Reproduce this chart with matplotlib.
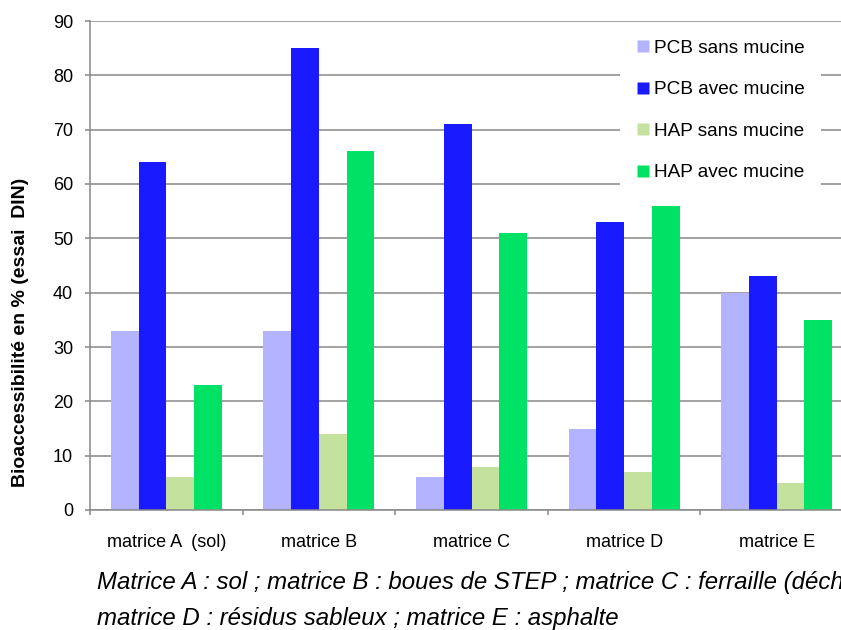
import matplotlib
matplotlib.use("Agg")
import matplotlib.pyplot as plt
from matplotlib.lines import Line2D
from matplotlib.patches import Rectangle
import numpy as np

plt.rcParams['font.family'] = ['Liberation Sans', 'DejaVu Sans']

categories = ["matrice A  (sol)", "matrice B", "matrice C", "matrice D", "matrice E"]
series_names = ["PCB sans mucine", "PCB avec mucine", "HAP sans mucine", "HAP avec mucine"]
pcb_sans = [33, 33, 6, 15, 40]
pcb_avec = [64, 85, 71, 53, 43]
hap_sans = [6, 14, 8, 7, 5]
hap_avec = [23, 66, 51, 56, 35]
colors = ["#B3B3FF", "#1A1AFF", "#C4E19E", "#00E266"]
y_ticks = [0, 10, 20, 30, 40, 50, 60, 70, 80, 90]
y_label = "Bioaccessibilité en % (essai  DIN)"
caption = ["Matrice A : sol ; matrice B : boues de STEP ; matrice C : ferraille (déchets) ;",
           "matrice D : résidus sableux ; matrice E : asphalte"]

W, H = 841, 630
fig = plt.figure(figsize=(W / 100, H / 100), dpi=100)
ax = fig.add_axes([90 / W, 1 - 510 / H, (853 - 90) / W, (510 - 21) / H])

x = np.arange(len(categories))
bw = 0.182
all_series = [pcb_sans, pcb_avec, hap_sans, hap_avec]
for i, (vals, c) in enumerate(zip(all_series, colors)):
    ax.bar(x + (i - 1.5) * bw, vals, width=bw, color=c, zorder=2, linewidth=0)

ax.set_xlim(-0.5, len(categories) - 0.5)
ax.set_ylim(0, 90)
ax.set_yticks(y_ticks)
ax.set_yticklabels([str(v) for v in y_ticks], fontsize=13)
ax.set_xticks(x)
ax.set_xticklabels(categories, fontsize=13)
ax.set_xticks(np.arange(-0.5, len(categories) + 0.5, 1), minor=True)
ax.tick_params(axis='x', which='major', length=0, pad=17)
ax.tick_params(axis='x', which='minor', length=3.6, width=1.1, color='#888888')
ax.tick_params(axis='y', length=3.6, width=1.1, color='#888888', pad=8.6)

ax.set_axisbelow(True)
ax.yaxis.grid(True, color='#888888', linewidth=1.1, zorder=0.5)
for s in ['top', 'right']:
    ax.spines[s].set_visible(False)
for s in ['left', 'bottom']:
    ax.spines[s].set_color('#888888')
    ax.spines[s].set_linewidth(1.1)

fig.text(21 / W, 1 - 332 / H, y_label, fontsize=14, fontweight='bold',
         rotation=90, ha='center', va='center')

# legend background box
rect = Rectangle((620 / W, 1 - 191 / H), (821 - 620) / W, (191 - 25) / H,
                 transform=fig.transFigure, facecolor='white', edgecolor='none', zorder=1)
ax.add_patch(rect)

handles = [Line2D([0], [0], marker='s', linestyle='none', markersize=8,
                  markerfacecolor=c, markeredgecolor='none') for c in colors]
leg = ax.legend(handles, series_names, loc='upper left',
                bbox_to_anchor=(627 / W, 1 - 30 / H), bbox_transform=fig.transFigure,
                frameon=False, fontsize=13.7, handlelength=0.7, handletextpad=0.2,
                labelspacing=1.27, borderpad=0.0)
leg.set_zorder(5)

fig.text(97 / W, 1 - 583 / H, caption[0], fontsize=17.3, style='italic', va='center', ha='left')
fig.text(97 / W, 1 - 618 / H, caption[1], fontsize=17.3, style='italic', va='center', ha='left')

fig.savefig("out.png", dpi=100)
